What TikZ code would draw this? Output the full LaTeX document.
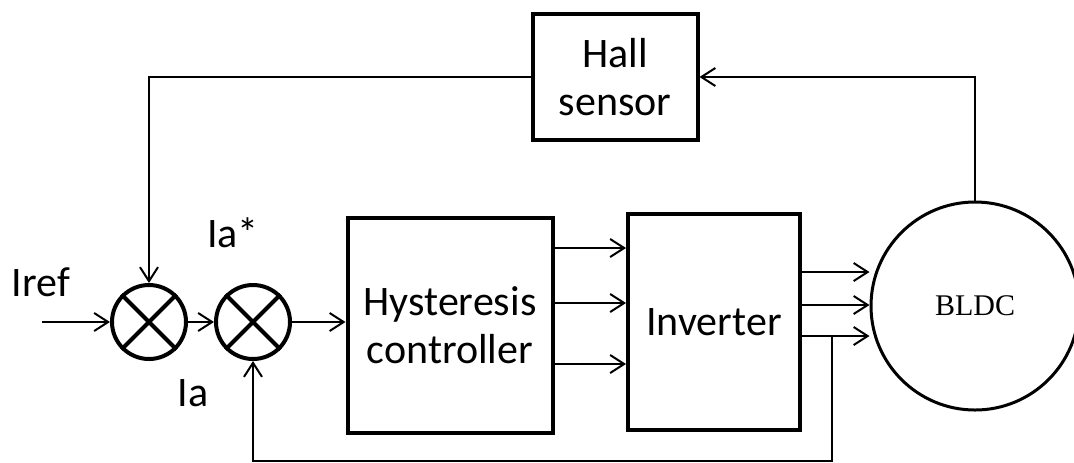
\documentclass[tikz,border=0pt]{standalone}
\usepackage{fontspec}
\setmainfont{Carlito}
\newfontfamily\bldcfont{Liberation Serif}
\usetikzlibrary{arrows.meta,positioning,calc}
\tikzset{
  blockbox/.style={rectangle, draw=black, line width=2pt, align=center,
                   font=\fontsize{21}{24}\selectfont, inner sep=0pt},
  sumnode/.style={circle, draw=black, line width=2pt, minimum size=37pt,
                  inner sep=0pt},
  motor/.style={circle, draw=black, line width=1.5pt, minimum size=104pt,
                inner sep=0pt, font=\bldcfont\fontsize{15}{18}\selectfont},
  sig/.style={-{Straight Barb[length=7pt,width=9pt,line width=1pt]},
              line width=1pt},
  lbl/.style={font=\fontsize{21}{24}\selectfont, inner sep=0pt}
}
\begin{document}
\begin{tikzpicture}[x=0.5pt, y=-0.5pt]
\useasboundingbox (0,0) rectangle (1074,462);
% blocks
\node[blockbox, minimum width=82.5pt, minimum height=63pt] (hall) at (615,77) {Hall\\sensor};
\node[blockbox, minimum width=102.5pt, minimum height=107.5pt] (hyst) at (450,325) {Hysteresis\\controller};
\node[blockbox, minimum width=86pt, minimum height=108pt] (inv) at (714,322) {Inverter};
\node[motor] (bldc) at (975,306) {BLDC};
% summing junctions
\node[sumnode] (s1) at (149,322) {};
\node[sumnode] (s2) at (253,322) {};
\foreach \s in {s1,s2}{
  \draw[line width=2pt] (\s.north west) -- (\s.south east);
  \draw[line width=2pt] (\s.north east) -- (\s.south west);
}
% labels
\node[lbl] (iref) at (41,282) {Iref};
\node[lbl] (iastar) at (233,233) {Ia*};
\node[lbl] (ia) at (193,393) {Ia};
% signals
\coordinate (in) at (42,322);
\draw[sig] (in) -- (s1.west);
\draw[sig] (s1.east) -- (s2.west);
\draw[sig] (s2.east) -- (hyst.west |- s2);
\foreach \yy in {248,303,364}
  \draw[sig] (hyst.east |- 0,\yy) -- (inv.west |- 0,\yy);
\foreach \yy in {272,305,336}
  \draw[sig] (inv.east |- 0,\yy) -- (bldc.west |- 0,\yy);
% feedback loops
\coordinate (tap) at (832,336);
\coordinate (fb) at (832,461);
\draw[sig] (tap) -- (fb) -| (s2.south);
\draw[sig] (bldc.north) |- (hall.east);
\draw[sig] (hall.west) -| (s1.north);
\end{tikzpicture}
\end{document}
